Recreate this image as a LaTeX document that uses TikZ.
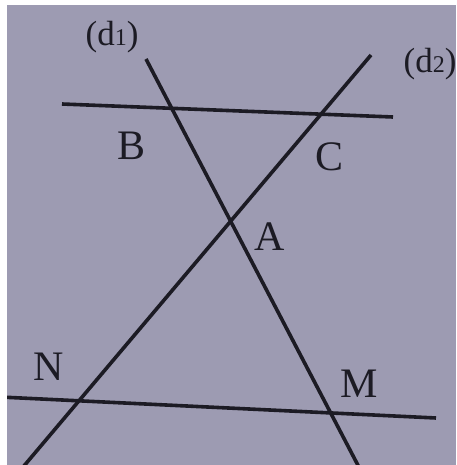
\documentclass[tikz,border=0pt]{standalone}
\usepackage{fontspec}
\setmainfont{Liberation Serif}
\definecolor{paper}{HTML}{9D9BB2}
\definecolor{ink}{HTML}{1C1B24}
\tikzset{
  ln/.style={draw=ink, line width=3.6pt},
  pt/.style={text=ink, font=\fontsize{42}{42}\selectfont, anchor=base, inner sep=0pt},
  dl/.style={text=ink, font=\fontsize{35}{35}\selectfont, anchor=base, inner sep=0pt}
}
\begin{document}
\begin{tikzpicture}[x=1pt,y=-1pt]
\useasboundingbox (0,0) rectangle (456,465);
\fill[white] (0,0) rectangle (456,465);
\fill[paper] (7,5) rectangle (456,465);
\begin{scope}
\clip (7,5) rectangle (456,465);
\coordinate (d1a) at (146,59);
\coordinate (d1b) at (362,473);
\coordinate (d2a) at (371,55);
\coordinate (d2b) at (18,473);
\coordinate (ta) at (62,104);
\coordinate (tb) at (393,117);
\coordinate (ba) at (0,397);
\coordinate (bb) at (436,418);
\draw[ln] (d1a) -- (d1b);
\draw[ln] (d2a) -- (d2b);
\draw[ln] (ta) -- (tb);
\draw[ln] (ba) -- (bb);
\end{scope}
\node[dl] (ld1) at (112,46) {(d{\fontsize{24}{24}\selectfont 1})};
\node[dl] (ld2) at (430,73) {(d{\fontsize{24}{24}\selectfont 2})};
\node[pt] (B) at (132,160) {B};
\node[pt] (C) at (330,171) {C};
\node[pt] (A) at (270,250) {A};
\node[pt] (N) at (49,380) {N};
\node[pt] (M) at (359,397) {M};
\end{tikzpicture}
\end{document}
